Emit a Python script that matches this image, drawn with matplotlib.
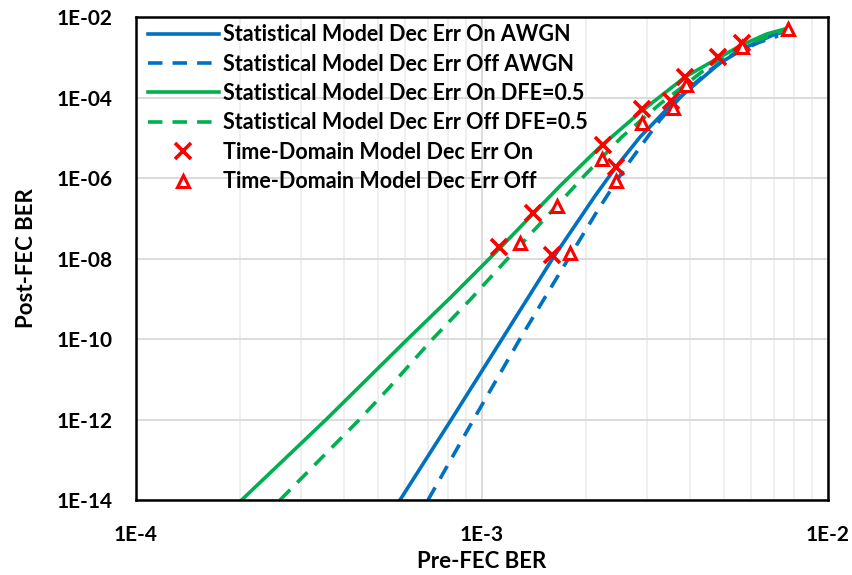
import numpy as np
import matplotlib
matplotlib.use('Agg')
import matplotlib.pyplot as plt
from matplotlib.ticker import FixedLocator, LogLocator, NullFormatter, FixedFormatter

plt.rcParams['font.family'] = ['Lato', 'DejaVu Sans']
plt.rcParams['font.weight'] = 'bold'

# ------------------------- Data -------------------------
awgn_on_x = [5.794e-4, 8.136e-4, 1.138e-3, 1.604e-3, 2.121e-3, 2.439e-3, 2.862e-3, 3.493e-3, 4.266e-3, 4.873e-3, 5.821e-3, 6.935e-3, 7.266e-3]
awgn_on_y = [1e-14, 9.72e-13, 9.44e-11, 1.03e-8, 3.57e-7, 1.87e-6, 1.04e-5, 6.15e-5, 2.72e-4, 7.20e-4, 1.80e-3, 3.57e-3, 4.0e-3]

awgn_off_x = [6.982e-4, 9.437e-4, 1.282e-3, 1.718e-3, 2.145e-3, 2.589e-3, 3.268e-3, 3.862e-3, 4.560e-3, 5.384e-3, 6.361e-3, 7.170e-3]
awgn_off_y = [1e-14, 9.72e-13, 9.44e-11, 6.15e-9, 1.43e-7, 1.77e-6, 2.76e-5, 1.37e-4, 4.82e-4, 1.28e-3, 2.39e-3, 3.37e-3]

dfe_on_x = [2.020e-4, 3.557e-4, 6.058e-4, 8.082e-4, 1.127e-3, 1.680e-3, 2.193e-3, 2.894e-3, 3.862e-3, 4.873e-3, 5.629e-3, 6.650e-3, 7.596e-3]
dfe_on_y = [1e-14, 1.03e-12, 9.44e-11, 1.04e-9, 1.82e-8, 6.33e-7, 5.89e-6, 4.62e-5, 3.23e-4, 1.01e-3, 2.01e-3, 3.78e-3, 5.18e-3]

dfe_off_x = [2.607e-4, 4.411e-4, 5.350e-4, 7.156e-4, 9.337e-4, 1.127e-3, 1.757e-3, 1.985e-3, 2.533e-3, 3.268e-3, 3.862e-3, 4.621e-3, 5.566e-3, 7.596e-3]
dfe_off_y = [1e-14, 9.72e-13, 5.73e-12, 9.44e-11, 1.04e-9, 6.15e-9, 3.78e-7, 1.19e-6, 1.04e-5, 6.89e-5, 2.05e-4, 6.80e-4, 1.80e-3, 5.03e-3]

td_on_x = [1.12e-3, 1.40e-3, 1.59e-3, 2.23e-3, 2.44e-3, 2.90e-3, 3.51e-3, 3.86e-3, 4.82e-3, 5.64e-3]
td_on_y = [1.96e-8, 1.37e-7, 1.22e-8, 6.6e-6, 1.84e-6, 5.08e-5, 8.3e-5, 3.29e-4, 9.98e-4, 2.30e-3]

td_off_x = [1.29e-3, 1.65e-3, 1.80e-3, 2.22e-3, 2.44e-3, 2.90e-3, 3.56e-3, 3.88e-3, 5.64e-3, 7.67e-3]
td_off_y = [2.39e-8, 2.01e-7, 1.35e-8, 2.91e-6, 8.6e-7, 2.37e-5, 5.4e-5, 2.05e-4, 1.77e-3, 4.94e-3]

y_ticks = [1e-2, 1e-4, 1e-6, 1e-8, 1e-10, 1e-12, 1e-14]
y_tick_labels = ['1E-02', '1E-04', '1E-06', '1E-08', '1E-10', '1E-12', '1E-14']
x_ticks = [1e-4, 1e-3, 1e-2]
x_tick_labels = ['1E-4', '1E-3', '1E-2']

blue = '#0070C0'
green = '#00B050'
red = '#FF0000'

# ------------------------- Plot -------------------------
fig = plt.figure(figsize=(8.52, 5.75), dpi=100)
ax = fig.add_axes([136/852, 1-500/575, (828-136)/852, (500-17)/575])

lw = 2.6
dash = (4, 2.8)
ax.plot(awgn_on_x, awgn_on_y, color=blue, lw=lw, label='Statistical Model Dec Err On AWGN')
ax.plot(awgn_off_x, awgn_off_y, color=blue, lw=lw, dashes=dash, label='Statistical Model Dec Err Off AWGN')
ax.plot(dfe_on_x, dfe_on_y, color=green, lw=lw, label='Statistical Model Dec Err On DFE=0.5')
ax.plot(dfe_off_x, dfe_off_y, color=green, lw=lw, dashes=dash, label='Statistical Model Dec Err Off DFE=0.5')
ax.plot(td_on_x, td_on_y, ls='none', marker='x', ms=12, mew=2.6, color=red,
        label='Time-Domain Model Dec Err On')
ax.plot(td_off_x, td_off_y, ls='none', marker='^', ms=8, mew=2.2, mfc='white', mec=red,
        label='Time-Domain Model Dec Err Off')

ax.set_xscale('log')
ax.set_yscale('log')
ax.set_xlim(1e-4, 1e-2)
ax.set_ylim(1e-14, 1e-2)

ax.yaxis.set_major_locator(FixedLocator(y_ticks))
ax.yaxis.set_major_formatter(FixedFormatter(y_tick_labels))
ax.yaxis.set_minor_locator(FixedLocator([]))
ax.xaxis.set_major_locator(FixedLocator(x_ticks))
ax.xaxis.set_major_formatter(FixedFormatter(x_tick_labels))
ax.xaxis.set_minor_locator(LogLocator(base=10, subs=np.arange(2, 10)))
ax.xaxis.set_minor_formatter(NullFormatter())

ax.grid(True, which='major', color='#d9d9d9', lw=1.3)
ax.grid(True, which='minor', axis='x', color='#eeeeee', lw=1.3)
ax.set_axisbelow(True)

ax.tick_params(axis='both', which='both', length=0)
ax.tick_params(axis='x', pad=18, labelsize=15)
ax.tick_params(axis='y', pad=17, labelsize=15)
for lbl in ax.get_xticklabels() + ax.get_yticklabels():
    lbl.set_fontweight('bold')

for sp in ax.spines.values():
    sp.set_linewidth(1.8)
    sp.set_color('black')

ax.set_xlabel('Pre-FEC BER', fontsize=16, fontweight='bold', labelpad=4)
ax.set_ylabel('Post-FEC BER', fontsize=16, fontweight='bold', labelpad=14)

leg = ax.legend(loc='upper left', bbox_to_anchor=(0.011, 0.994), frameon=False, handlelength=3.3,
                handletextpad=0.2, labelspacing=0.39, borderaxespad=0, borderpad=0.2,
                prop={'weight': 'bold', 'size': 15.5})

fig.savefig('out.png', dpi=100)
